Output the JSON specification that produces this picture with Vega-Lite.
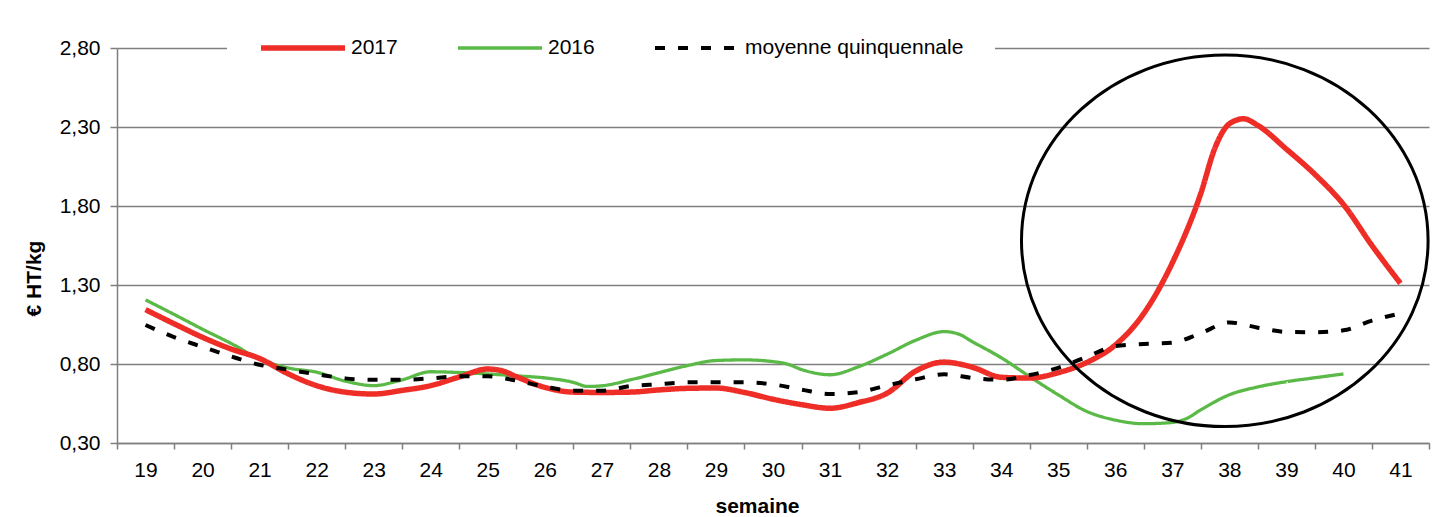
{
  "$schema": "https://vega.github.io/schema/vega-lite/v6.json",
  "width": 1312,
  "height": 395,
  "autosize": {"type": "none"},
  "padding": {"left": 117, "top": 48, "right": 7, "bottom": 74},
  "background": "white",
  "config": {"font": "Liberation Sans", "view": {"stroke": null}},
  "datasets": {
    "prix": [
      {"serie": "2017", "semaine": 19, "prix": 1.144},
      {"serie": "2017", "semaine": 19.5, "prix": 1.055},
      {"serie": "2017", "semaine": 20, "prix": 0.969},
      {"serie": "2017", "semaine": 20.5, "prix": 0.895},
      {"serie": "2017", "semaine": 21, "prix": 0.835},
      {"serie": "2017", "semaine": 21.5, "prix": 0.738},
      {"serie": "2017", "semaine": 22, "prix": 0.663},
      {"serie": "2017", "semaine": 22.5, "prix": 0.622},
      {"serie": "2017", "semaine": 23, "prix": 0.61},
      {"serie": "2017", "semaine": 23.5, "prix": 0.633},
      {"serie": "2017", "semaine": 24, "prix": 0.663},
      {"serie": "2017", "semaine": 24.5, "prix": 0.718},
      {"serie": "2017", "semaine": 25, "prix": 0.768},
      {"serie": "2017", "semaine": 25.25, "prix": 0.757},
      {"serie": "2017", "semaine": 25.5, "prix": 0.72},
      {"serie": "2017", "semaine": 26, "prix": 0.652},
      {"serie": "2017", "semaine": 26.5, "prix": 0.622},
      {"serie": "2017", "semaine": 27, "prix": 0.62},
      {"serie": "2017", "semaine": 27.5, "prix": 0.622},
      {"serie": "2017", "semaine": 28, "prix": 0.636},
      {"serie": "2017", "semaine": 28.5, "prix": 0.646},
      {"serie": "2017", "semaine": 29, "prix": 0.648},
      {"serie": "2017", "semaine": 29.5, "prix": 0.62},
      {"serie": "2017", "semaine": 30, "prix": 0.577},
      {"serie": "2017", "semaine": 30.5, "prix": 0.543},
      {"serie": "2017", "semaine": 31, "prix": 0.52},
      {"serie": "2017", "semaine": 31.5, "prix": 0.556},
      {"serie": "2017", "semaine": 32, "prix": 0.615},
      {"serie": "2017", "semaine": 32.5, "prix": 0.755},
      {"serie": "2017", "semaine": 33, "prix": 0.812},
      {"serie": "2017", "semaine": 33.5, "prix": 0.779},
      {"serie": "2017", "semaine": 34, "prix": 0.716},
      {"serie": "2017", "semaine": 34.5, "prix": 0.711},
      {"serie": "2017", "semaine": 35, "prix": 0.745},
      {"serie": "2017", "semaine": 35.5, "prix": 0.81},
      {"serie": "2017", "semaine": 36, "prix": 0.92},
      {"serie": "2017", "semaine": 36.5, "prix": 1.12},
      {"serie": "2017", "semaine": 37, "prix": 1.44},
      {"serie": "2017", "semaine": 37.5, "prix": 1.88},
      {"serie": "2017", "semaine": 37.75, "prix": 2.17},
      {"serie": "2017", "semaine": 38, "prix": 2.32},
      {"serie": "2017", "semaine": 38.25, "prix": 2.352},
      {"serie": "2017", "semaine": 38.5, "prix": 2.31},
      {"serie": "2017", "semaine": 39, "prix": 2.16},
      {"serie": "2017", "semaine": 39.5, "prix": 2.0},
      {"serie": "2017", "semaine": 40, "prix": 1.81},
      {"serie": "2017", "semaine": 40.5, "prix": 1.55},
      {"serie": "2017", "semaine": 41, "prix": 1.31},
      {"serie": "2016", "semaine": 19, "prix": 1.206},
      {"serie": "2016", "semaine": 19.5, "prix": 1.114},
      {"serie": "2016", "semaine": 20, "prix": 1.02},
      {"serie": "2016", "semaine": 20.5, "prix": 0.93},
      {"serie": "2016", "semaine": 21, "prix": 0.832},
      {"serie": "2016", "semaine": 21.5, "prix": 0.775},
      {"serie": "2016", "semaine": 22, "prix": 0.748},
      {"serie": "2016", "semaine": 22.5, "prix": 0.692},
      {"serie": "2016", "semaine": 23, "prix": 0.663},
      {"serie": "2016", "semaine": 23.5, "prix": 0.7},
      {"serie": "2016", "semaine": 24, "prix": 0.751},
      {"serie": "2016", "semaine": 24.5, "prix": 0.746},
      {"serie": "2016", "semaine": 25, "prix": 0.737},
      {"serie": "2016", "semaine": 25.5, "prix": 0.725},
      {"serie": "2016", "semaine": 26, "prix": 0.712},
      {"serie": "2016", "semaine": 26.5, "prix": 0.684},
      {"serie": "2016", "semaine": 26.75, "prix": 0.658},
      {"serie": "2016", "semaine": 27, "prix": 0.662},
      {"serie": "2016", "semaine": 27.5, "prix": 0.7},
      {"serie": "2016", "semaine": 28, "prix": 0.745},
      {"serie": "2016", "semaine": 28.5, "prix": 0.79},
      {"serie": "2016", "semaine": 29, "prix": 0.822},
      {"serie": "2016", "semaine": 29.5, "prix": 0.826},
      {"serie": "2016", "semaine": 30, "prix": 0.815},
      {"serie": "2016", "semaine": 30.25, "prix": 0.8},
      {"serie": "2016", "semaine": 30.5, "prix": 0.765},
      {"serie": "2016", "semaine": 31, "prix": 0.732},
      {"serie": "2016", "semaine": 31.5, "prix": 0.783},
      {"serie": "2016", "semaine": 32, "prix": 0.862},
      {"serie": "2016", "semaine": 32.5, "prix": 0.95},
      {"serie": "2016", "semaine": 33, "prix": 1.005},
      {"serie": "2016", "semaine": 33.25, "prix": 0.99},
      {"serie": "2016", "semaine": 33.5, "prix": 0.94},
      {"serie": "2016", "semaine": 34, "prix": 0.84},
      {"serie": "2016", "semaine": 34.5, "prix": 0.72},
      {"serie": "2016", "semaine": 35, "prix": 0.605},
      {"serie": "2016", "semaine": 35.5, "prix": 0.5},
      {"serie": "2016", "semaine": 36, "prix": 0.445},
      {"serie": "2016", "semaine": 36.5, "prix": 0.422},
      {"serie": "2016", "semaine": 37, "prix": 0.43},
      {"serie": "2016", "semaine": 37.25, "prix": 0.455},
      {"serie": "2016", "semaine": 37.5, "prix": 0.51},
      {"serie": "2016", "semaine": 38, "prix": 0.605},
      {"serie": "2016", "semaine": 38.5, "prix": 0.655},
      {"serie": "2016", "semaine": 39, "prix": 0.688},
      {"serie": "2016", "semaine": 39.5, "prix": 0.713},
      {"serie": "2016", "semaine": 40, "prix": 0.737},
      {"serie": "moyenne quinquennale", "semaine": 19, "prix": 1.047},
      {"serie": "moyenne quinquennale", "semaine": 19.5, "prix": 0.97},
      {"serie": "moyenne quinquennale", "semaine": 20, "prix": 0.908},
      {"serie": "moyenne quinquennale", "semaine": 20.5, "prix": 0.848},
      {"serie": "moyenne quinquennale", "semaine": 21, "prix": 0.795},
      {"serie": "moyenne quinquennale", "semaine": 21.5, "prix": 0.764},
      {"serie": "moyenne quinquennale", "semaine": 22, "prix": 0.735},
      {"serie": "moyenne quinquennale", "semaine": 22.5, "prix": 0.709},
      {"serie": "moyenne quinquennale", "semaine": 23, "prix": 0.7},
      {"serie": "moyenne quinquennale", "semaine": 23.5, "prix": 0.7},
      {"serie": "moyenne quinquennale", "semaine": 24, "prix": 0.709},
      {"serie": "moyenne quinquennale", "semaine": 24.5, "prix": 0.722},
      {"serie": "moyenne quinquennale", "semaine": 25, "prix": 0.722},
      {"serie": "moyenne quinquennale", "semaine": 25.5, "prix": 0.695},
      {"serie": "moyenne quinquennale", "semaine": 26, "prix": 0.656},
      {"serie": "moyenne quinquennale", "semaine": 26.5, "prix": 0.631},
      {"serie": "moyenne quinquennale", "semaine": 27, "prix": 0.631},
      {"serie": "moyenne quinquennale", "semaine": 27.5, "prix": 0.66},
      {"serie": "moyenne quinquennale", "semaine": 28, "prix": 0.672},
      {"serie": "moyenne quinquennale", "semaine": 28.5, "prix": 0.684},
      {"serie": "moyenne quinquennale", "semaine": 29, "prix": 0.684},
      {"serie": "moyenne quinquennale", "semaine": 29.5, "prix": 0.684},
      {"serie": "moyenne quinquennale", "semaine": 30, "prix": 0.671},
      {"serie": "moyenne quinquennale", "semaine": 30.5, "prix": 0.638},
      {"serie": "moyenne quinquennale", "semaine": 31, "prix": 0.61},
      {"serie": "moyenne quinquennale", "semaine": 31.5, "prix": 0.622},
      {"serie": "moyenne quinquennale", "semaine": 32, "prix": 0.665},
      {"serie": "moyenne quinquennale", "semaine": 32.5, "prix": 0.703},
      {"serie": "moyenne quinquennale", "semaine": 33, "prix": 0.735},
      {"serie": "moyenne quinquennale", "semaine": 33.5, "prix": 0.712},
      {"serie": "moyenne quinquennale", "semaine": 34, "prix": 0.7},
      {"serie": "moyenne quinquennale", "semaine": 34.5, "prix": 0.73},
      {"serie": "moyenne quinquennale", "semaine": 35, "prix": 0.776},
      {"serie": "moyenne quinquennale", "semaine": 35.5, "prix": 0.845},
      {"serie": "moyenne quinquennale", "semaine": 36, "prix": 0.914},
      {"serie": "moyenne quinquennale", "semaine": 36.5, "prix": 0.927},
      {"serie": "moyenne quinquennale", "semaine": 37, "prix": 0.935},
      {"serie": "moyenne quinquennale", "semaine": 37.5, "prix": 0.995},
      {"serie": "moyenne quinquennale", "semaine": 38, "prix": 1.063},
      {"serie": "moyenne quinquennale", "semaine": 38.5, "prix": 1.03},
      {"serie": "moyenne quinquennale", "semaine": 39, "prix": 1.003},
      {"serie": "moyenne quinquennale", "semaine": 39.5, "prix": 1.001},
      {"serie": "moyenne quinquennale", "semaine": 40, "prix": 1.013},
      {"serie": "moyenne quinquennale", "semaine": 40.5, "prix": 1.075},
      {"serie": "moyenne quinquennale", "semaine": 41, "prix": 1.12}
    ],
    "annotation": [{"semaine": 37.92, "prix": 1.58}]
  },
  "encoding": {
    "x": {
      "field": "semaine",
      "type": "quantitative",
      "scale": {"domain": [18.5, 41.5], "nice": false, "zero": false},
      "axis": {
        "values": [18.5, 19, 19.5, 20, 20.5, 21, 21.5, 22, 22.5, 23, 23.5, 24, 24.5, 25, 25.5, 26, 26.5, 27, 27.5, 28, 28.5, 29, 29.5, 30, 30.5, 31, 31.5, 32, 32.5, 33, 33.5, 34, 34.5, 35, 35.5, 36, 36.5, 37, 37.5, 38, 38.5, 39, 39.5, 40, 40.5, 41, 41.5],
        "labelExpr": "datum.value % 1 == 0 ? datum.value : ''",
        "tickOpacity": {"condition": {"test": "datum.value % 1 == 0", "value": 0}, "value": 1},
        "grid": false,
        "domainColor": "#7f7f7f",
        "domainWidth": 1.5,
        "tickColor": "#7f7f7f",
        "tickWidth": 1.5,
        "tickSize": 6,
        "labelFontSize": 21,
        "labelColor": "black",
        "labelPadding": 10,
        "labelOverlap": false,
        "labelFlush": false,
        "title": "semaine",
        "titleFontSize": 21,
        "titleFontWeight": "bold",
        "titleColor": "black",
        "titleX": 640,
        "titleY": 69,
        "titleAlign": "center",
        "titleBaseline": "alphabetic"
      }
    },
    "y": {
      "field": "prix",
      "type": "quantitative",
      "scale": {"domain": [0.3, 2.8], "nice": false, "zero": false},
      "axis": {
        "values": [0.3, 0.8, 1.3, 1.8, 2.3, 2.8],
        "labelExpr": "replace(format(datum.value, '.2f'), '.', ',')",
        "grid": true,
        "gridColor": "#7f7f7f",
        "gridWidth": 1.5,
        "domainColor": "#7f7f7f",
        "domainWidth": 1.5,
        "tickColor": "#7f7f7f",
        "tickWidth": 1.5,
        "tickSize": 7,
        "labelFontSize": 21,
        "labelColor": "black",
        "labelPadding": 10,
        "title": "€ HT/kg",
        "titleFontSize": 21,
        "titleFontWeight": "bold",
        "titleColor": "black",
        "titleX": -77,
        "titleY": 230,
        "titleAlign": "center",
        "titleBaseline": "alphabetic"
      }
    }
  },
  "layer": [
    {
      "data": {"name": "prix"},
      "encoding": {
        "color": {
          "field": "serie",
          "type": "ordinal",
          "scale": {"type": "ordinal", "domain": ["2017", "2016", "moyenne quinquennale"], "range": ["#ED2D26", "#5BBA47", "#000000"]},
          "legend": {"orient": "none", "legendX": 110, "legendY": -42, "direction": "horizontal", "columns": 3, "title": null, "symbolType": "stroke", "symbolSize": 7056, "clipHeight": 22, "labelFontSize": 21, "labelColor": "black", "labelOffset": 3, "labelLimit": 0, "columnPadding": 57, "padding": 31, "fillColor": "white"}
        },
        "strokeDash": {
          "field": "serie",
          "type": "ordinal",
          "scale": {"type": "ordinal", "domain": ["2017", "2016", "moyenne quinquennale"], "range": [[1, 0], [1, 0], [10, 13]]},
          "legend": {"orient": "none", "legendX": 110, "legendY": -42, "direction": "horizontal", "columns": 3, "title": null, "symbolType": "stroke", "symbolSize": 7056, "clipHeight": 22, "labelFontSize": 21, "labelColor": "black", "labelOffset": 3, "labelLimit": 0, "columnPadding": 57, "padding": 31, "fillColor": "white"}
        },
        "strokeWidth": {
          "field": "serie",
          "type": "ordinal",
          "scale": {"type": "ordinal", "domain": ["2017", "2016", "moyenne quinquennale"], "range": [5.5, 3.3, 4]},
          "legend": {"orient": "none", "legendX": 110, "legendY": -42, "direction": "horizontal", "columns": 3, "title": null, "symbolType": "stroke", "symbolSize": 7056, "clipHeight": 22, "labelFontSize": 21, "labelColor": "black", "labelOffset": 3, "labelLimit": 0, "columnPadding": 57, "padding": 31, "fillColor": "white"}
        }
      },
      "layer": [
        {"transform": [{"filter": "datum.serie == '2016'"}], "mark": {"type": "line", "interpolate": "monotone", "strokeCap": "butt"}},
        {"transform": [{"filter": "datum.serie == '2017'"}], "mark": {"type": "line", "interpolate": "monotone", "strokeCap": "butt"}},
        {"transform": [{"filter": "datum.serie == 'moyenne quinquennale'"}], "mark": {"type": "line", "interpolate": "monotone", "strokeCap": "butt"}}
      ]
    },
    {
      "data": {"name": "annotation"},
      "mark": {
        "type": "point",
        "shape": "M 1 0 C 1 0.505 0.552 0.914 0 0.914 C -0.552 0.914 -1 0.505 -1 0 C -1 -0.505 -0.552 -0.914 0 -0.914 C 0.552 -0.914 1 -0.505 1 0 Z",
        "size": 165324,
        "filled": false,
        "stroke": "black",
        "strokeWidth": 3,
        "opacity": 1
      }
    }
  ]
}
